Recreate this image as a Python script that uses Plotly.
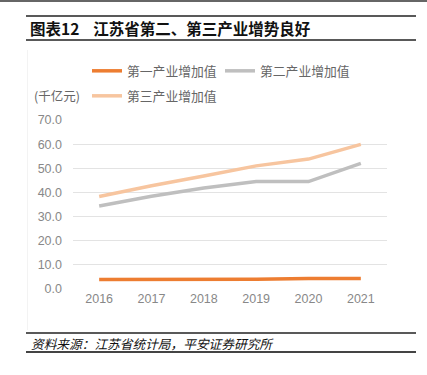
import plotly.graph_objects as go

years = ["2016", "2017", "2018", "2019", "2020", "2021"]
primary = [3.9, 3.9, 3.9, 4.0, 4.3, 4.4]
secondary = [34.4, 38.4, 41.8, 44.5, 44.5, 52.0]
tertiary = [38.3, 42.8, 46.8, 51.0, 53.8, 59.9]
names = ["第一产业增加值", "第二产业增加值", "第三产业增加值"]
colors = ["#ED7D31", "#BFBFBF", "#F7C59F"]

W, H = 427, 375
L, R, T, B = 73, 40, 120, 86
PW = W - L - R
PH = H - T - B

def px(x):
    return (x - L) / PW

def py(y):
    return (H - B - y) / PH

FONT = "Liberation Sans, Noto Sans CJK SC, sans-serif"

fig = go.Figure()
for vals, nm, col, lg in zip([primary, secondary, tertiary], names, colors, ["legend", "legend", "legend2"]):
    fig.add_trace(go.Scatter(x=years, y=vals, name=nm, mode="lines",
                             line=dict(color=col, width=3.5), legend=lg))

shapes = [dict(type="line", xref="paper", yref="paper", x0=px(27.5), x1=px(27.5),
               y0=py(50), y1=py(330), line=dict(color="#F3F3F3", width=1))]
def hline(y, x0, x1, color, w):
    shapes.append(dict(type="line", xref="paper", yref="paper",
                       x0=px(x0), x1=px(x1), y0=py(y), y1=py(y),
                       line=dict(color=color, width=w)))

hline(1, 0, W, "#666666", 2)
hline(16, 26, 416, "#222222", 1.5)
hline(40, 26, 416, "#222222", 1.5)
hline(333, 26, 416, "#222222", 1.5)
hline(352, 26, 416, "#444444", 2)

annotations = [
    dict(text="<b>图表12    江苏省第二、第三产业增势良好</b>", xref="paper", yref="paper",
         x=px(28), y=py(28), xanchor="left", yanchor="middle", showarrow=False,
         font=dict(family="Noto Sans CJK SC, Liberation Sans", size=15.5, color="#111111")),
    dict(text="<i>资料来源：江苏省统计局，平安证券研究所</i>", xref="paper", yref="paper",
         x=px(29), y=py(343), xanchor="left", yanchor="middle", showarrow=False,
         font=dict(family="Noto Sans CJK SC", size=12.7, color="#111111")),
    dict(text="(千亿元)", xref="paper", yref="paper",
         x=px(32), y=py(96), xanchor="left", yanchor="middle", showarrow=False,
         font=dict(family="Noto Sans CJK SC", size=12.5, color="#666666")),
]

legfont = dict(family="Noto Sans CJK SC", size=12.8, color="#666666")
fig.update_layout(
    width=W, height=H,
    margin=dict(l=L, r=R, t=T, b=B, autoexpand=False),
    paper_bgcolor="white", plot_bgcolor="white",
    font=dict(family=FONT),
    shapes=shapes, annotations=annotations,
    legend=dict(orientation="h", x=px(87), y=py(71), xanchor="left", yanchor="middle",
                font=legfont, entrywidth=88, entrywidthmode="pixels",
                bgcolor="rgba(0,0,0,0)", itemwidth=30),
    legend2=dict(orientation="h", x=px(87), y=py(96), xanchor="left", yanchor="middle",
                 font=legfont, bgcolor="rgba(0,0,0,0)", itemwidth=30),
    xaxis=dict(type="category", range=[-0.5, 5.5], showgrid=False, zeroline=False,
               showline=False, ticks="", tickfont=dict(size=12.5, color="#888888", family="Liberation Sans")),
    yaxis=dict(range=[0, 70], dtick=10, tickformat=".1f", showgrid=True, gridcolor="#E3E3E3",
               gridwidth=1, zeroline=False, showline=False, ticks="", ticklabelstandoff=10,
               tickfont=dict(size=12.5, color="#888888", family="Liberation Sans")),
)
fig.write_html("out.html", config={"displayModeBar": False},
               post_script="document.body.style.margin='0px';document.body.style.overflow='hidden';")
